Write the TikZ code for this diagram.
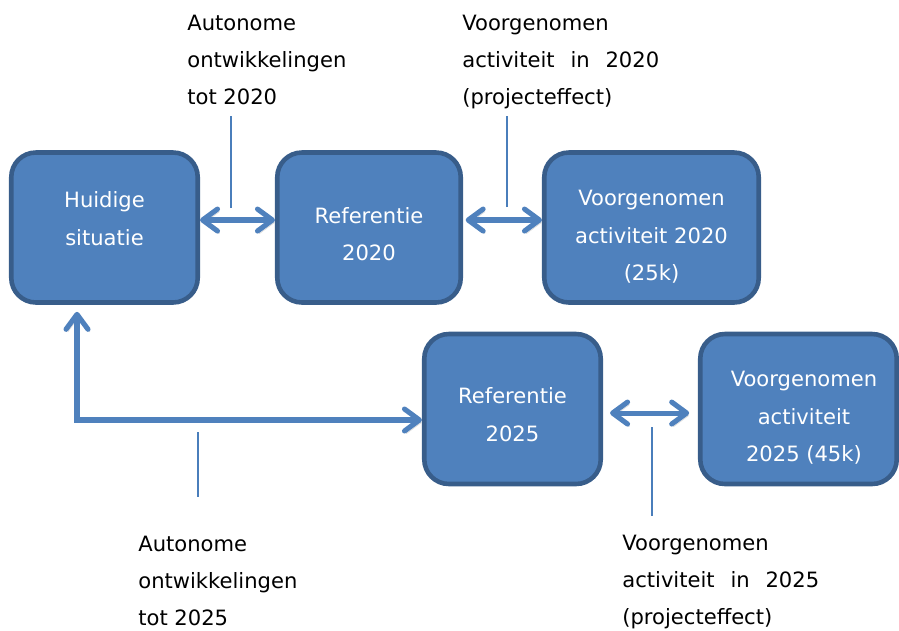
\documentclass[tikz,border=0pt]{standalone}
\usepackage{fontspec}
\setmainfont{DejaVu Sans}
\usepackage{xcolor}
\usetikzlibrary{arrows.meta, positioning, calc}
\definecolor{vlakblauw}{HTML}{4F81BD}
\definecolor{randblauw}{HTML}{385D8A}
\definecolor{lijnblauw}{HTML}{4A7EBB}

\begin{document}
\begin{tikzpicture}[x=0.02cm, y=-0.02cm,
  blok/.style={draw=randblauw, line width=2.6pt, fill=vlakblauw, rounded corners=14pt, minimum height=3cm, inner sep=0pt},
  bloktekst/.style={text=white, align=center, font=\fontsize{12}{21.5}\selectfont},
  pijl/.style={draw=vlakblauw, line width=2.9pt, <->, preaction={draw=black, opacity=0.15, transform canvas={xshift=1pt, yshift=-1.5pt}}},
  toelichting/.style={anchor=base west, align=left, inner sep=0pt, font=\fontsize{12}{21}\selectfont},
  lijn/.style={draw=lijnblauw, line width=1.1pt},
  >={Straight Barb[length=8.5pt, width=12.5pt, round]}]

  \useasboundingbox (0,0) rectangle (899,630);

  % Bovenste rij
  \node[blok, minimum width=3.73cm, label={[bloktekst, yshift=5.2pt]center:{Huidige\\situatie}}] (huidig) at (104.5,227.5) {};
  \node[blok, minimum width=3.67cm, label={[bloktekst, yshift=-3.8pt]center:{Referentie\\2020}}] (ref20) at (369,227.5) {};
  \node[blok, minimum width=4.29cm, label={[bloktekst, yshift=-5.3pt]center:{Voorgenomen\\activiteit 2020\\(25k)}}] (voor20) at (651.5,227.5) {};

  % Onderste rij
  \node[blok, minimum width=3.53cm, label={[bloktekst, yshift=-3pt]center:{Referentie\\2025}}] (ref25) at (512.5,409) {};
  \node[blok, minimum width=3.93cm, label={[bloktekst, xshift=3.1pt, yshift=-5pt]center:{Voorgenomen\\activiteit\\2025 (45k)}}] (voor25) at (798.5,409) {};

  % Pijlen
  \draw[pijl] ([yshift=4.25pt]huidig.east) -- ([yshift=4.25pt]ref20.west);
  \draw[pijl, shorten <=1.5pt] ([yshift=4.25pt]ref20.east) -- ([yshift=4.25pt]voor20.west);
  \draw[pijl, shorten <=4pt, shorten >=5pt] ([yshift=-2.3pt]ref25.east) -- ([yshift=-2.3pt]voor25.west);
  \coordinate (hoek) at (77,420);
  \draw[pijl, shorten <=4pt] (huidig.south -| hoek) -- (hoek) -- (ref25.west |- hoek);

  % Toelichtingen (anker op de laatste regel)
  \node[toelichting] (aut20) at (187,104) {Autonome\\ontwikkelingen\\tot 2020};
  \node[toelichting] (proj20) at (462,104) {Voorgenomen\\activiteit\hspace{0.75em}in\hspace{0.75em}2020\\(projecteffect)};
  \node[toelichting] (aut25) at (138,625) {Autonome\\ontwikkelingen\\tot 2025};
  \node[toelichting] (proj25) at (622,624) {Voorgenomen\\activiteit\hspace{0.75em}in\hspace{0.75em}2025\\(projecteffect)};

  \coordinate (v20) at (231,208);
  \draw[lijn, shorten >=6.5pt] (v20) -- (v20 |- aut20.south);
  \coordinate (p20) at (507,207);
  \draw[lijn, shorten >=4.4pt] (p20) -- (p20 |- proj20.south);
  \coordinate (v25) at (198,432);
  \draw[lijn, shorten >=22pt] (v25) -- (v25 |- aut25.north);
  \coordinate (p25) at (652,427);
  \draw[lijn, shorten >=10.8pt] (p25) -- (p25 |- proj25.north);
\end{tikzpicture}
\end{document}
